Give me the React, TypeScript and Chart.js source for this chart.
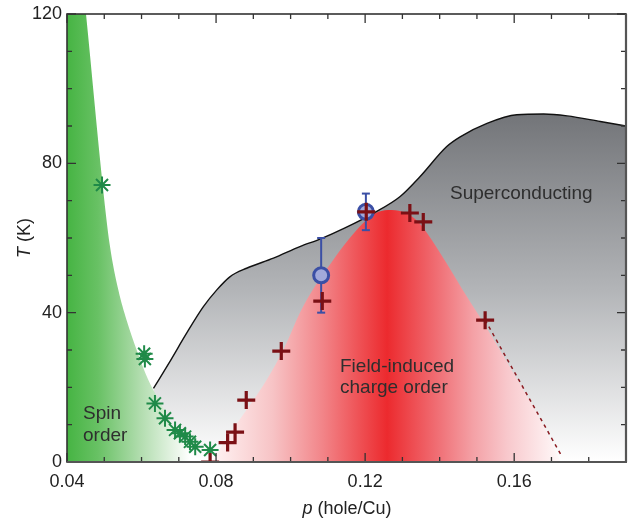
import React, { useEffect, useRef } from "react";
import { Chart, registerables } from "chart.js";
Chart.register(...registerables);

// ---- tick labels ----
const xTickLabels = ["0.04", "0.08", "0.12", "0.16"];
const yTickLabels = ["0", "40", "80", "120"];

// ---- spin order (green asterisks) ----
const spinP = [0.0494, 0.0607, 0.0609, 0.0636, 0.0663, 0.069, 0.0703, 0.0717, 0.073, 0.0744, 0.0784];
const spinT = [74.2, 29.0, 27.6, 15.7, 11.7, 8.6, 7.7, 6.8, 5.4, 4.1, 3.2];

// ---- field-induced charge order (dark red crosses) ----
const chargeP = [0.0784, 0.0831, 0.0851, 0.0881, 0.0975, 0.1085, 0.1203, 0.132, 0.1356, 0.1522];
const chargeT = [0, 5.2, 8.0, 16.6, 29.7, 43.1, 67, 66.7, 64.3, 38.0];

// ---- blue circles with error bars ----
const blueP = [0.1082, 0.1202];
const blueT = [50, 67];
const blueErr = [10, 4.9];

// ---- superconducting dome boundary ----
const scP = [0.0632, 0.0676, 0.0721, 0.0766, 0.0802, 0.0837, 0.0882, 0.0954, 0.1025, 0.1079, 0.1146, 0.1222, 0.1294, 0.1347, 0.1419, 0.1455, 0.1527, 0.1607, 0.1679, 0.1742, 0.1831, 0.19];
const scT = [19.7, 26.9, 34.5, 41.6, 46.1, 49.6, 51.9, 54.6, 57.7, 59.7, 62.7, 66.6, 71.1, 76.4, 84.5, 87.1, 90.7, 93.0, 93.2, 92.7, 91.2, 90.0];

// ---- spin order region edge ----
const spinEdgeP = [0.04, 0.0451, 0.0497, 0.0515, 0.0538, 0.056, 0.0587, 0.0618, 0.065, 0.0685, 0.072, 0.076];
const spinEdgeT = [170, 120, 73, 58, 46, 38, 30, 22, 16, 9.5, 4, 0];

// ---- charge order dome edge ----
const domeP = [0.079, 0.0829, 0.0882, 0.0936, 0.0985, 0.1025, 0.1065, 0.111, 0.1155, 0.1195, 0.1225, 0.1262, 0.13, 0.1335, 0.1365, 0.1419, 0.1473, 0.1518, 0.1598, 0.1661, 0.1725];
const domeT = [0, 6.5, 14, 22, 31, 40, 47, 53.5, 59.5, 64, 66.5, 67.5, 67, 65, 61.5, 53.2, 44.3, 37.2, 23.8, 13, 0];

// ---- dashed extrapolation ----
const dashP = [0.1522, 0.1728];
const dashT = [38, 1.5];

const zip = (xs: number[], ys: number[]) => xs.map((x, i) => ({ x, y: ys[i] }));

const FONT = "'Liberation Sans', Arial, Helvetica, sans-serif";

function greenFill(ctx: any) {
  const chart = ctx.chart;
  if (!chart.chartArea) return "rgba(0,0,0,0)";
  const xs = chart.scales.x;
  const g = chart.ctx.createLinearGradient(xs.getPixelForValue(0.04), 0, xs.getPixelForValue(0.073), 0);
  g.addColorStop(0, "#46b443");
  g.addColorStop(0.25, "#68c164");
  g.addColorStop(0.6, "#b2ddaf");
  g.addColorStop(1, "#ffffff");
  return g;
}

function redFill(ctx: any) {
  const chart = ctx.chart;
  if (!chart.chartArea) return "rgba(0,0,0,0)";
  const xs = chart.scales.x;
  const a = xs.getPixelForValue(0.079);
  const b = xs.getPixelForValue(0.1725);
  const g = chart.ctx.createLinearGradient(a, 0, b, 0);
  const stop = (v: number, c: string) => g.addColorStop((xs.getPixelForValue(v) - a) / (b - a), c);
  stop(0.079, "#fff4f4");
  stop(0.0953, "#f7c3c5");
  stop(0.1087, "#f28488");
  stop(0.1259, "#ec2a2e");
  stop(0.1401, "#f07278");
  stop(0.149, "#f4a1a6");
  stop(0.1581, "#f8c8cc");
  stop(0.1725, "#fffafa");
  return g;
}

function grayFill(ctx: any) {
  const chart = ctx.chart;
  if (!chart.chartArea) return "rgba(0,0,0,0)";
  const ys = chart.scales.y;
  const g = chart.ctx.createLinearGradient(0, ys.getPixelForValue(93), 0, ys.getPixelForValue(0));
  g.addColorStop(0, "#737579");
  g.addColorStop(0.5, "#b2b4b7");
  g.addColorStop(1, "#ffffff");
  return g;
}

const framePlugin = {
  id: "frameTicksText",
  afterDatasetsDraw(chart: any) {
    const { ctx, chartArea: ca, scales } = chart;
    const xs = scales.x;
    const ys = scales.y;
    ctx.save();
    // annotations
    ctx.fillStyle = "#2e2e2e";
    ctx.font = `19px ${FONT}`;
    ctx.textAlign = "left";
    ctx.textBaseline = "alphabetic";
    ctx.fillText("Superconducting", 450, 199);
    ctx.fillText("Field-induced", 340, 372);
    ctx.fillText("charge order", 340, 393);
    ctx.fillText("Spin", 83, 419);
    ctx.fillText("order", 83, 441);

    // ticks (inward)
    ctx.strokeStyle = "#333";
    ctx.lineWidth = 1.3;
    ctx.beginPath();
    xs.ticks.forEach((t: any) => {
      const px = xs.getPixelForValue(t.value);
      const major = Math.abs(Math.round(t.value * 100) % 4) === 0;
      const len = major ? 9 : 5;
      ctx.moveTo(px, ca.bottom);
      ctx.lineTo(px, ca.bottom - len);
      ctx.moveTo(px, ca.top);
      ctx.lineTo(px, ca.top + len);
    });
    ys.ticks.forEach((t: any) => {
      const py = ys.getPixelForValue(t.value);
      const major = Math.round(t.value) % 40 === 0;
      const len = major ? 9 : 5;
      ctx.moveTo(ca.left, py);
      ctx.lineTo(ca.left + len, py);
      ctx.moveTo(ca.right, py);
      ctx.lineTo(ca.right - len, py);
    });
    ctx.stroke();

    // frame
    ctx.lineWidth = 1.6;
    ctx.strokeStyle = "#333";
    ctx.strokeRect(ca.left, ca.top, ca.right - ca.left, ca.bottom - ca.top);
    ctx.strokeStyle = "#555";
    ctx.lineWidth = 2.2;
    ctx.beginPath();
    ctx.moveTo(ca.left, ca.bottom);
    ctx.lineTo(ca.right + 1, ca.bottom);
    ctx.moveTo(ca.right, ca.top);
    ctx.lineTo(ca.right, ca.bottom);
    ctx.stroke();
    ctx.restore();
  },
  afterDraw(chart: any) {
    const { ctx } = chart;
    ctx.save();
    ctx.fillStyle = "#222";
    ctx.textBaseline = "middle";
    // x title
    const reg = `18px ${FONT}`;
    const ita = `italic 18px ${FONT}`;
    ctx.font = ita;
    const wp = ctx.measureText("p").width;
    ctx.font = reg;
    const wr = ctx.measureText(" (hole/Cu)").width;
    const cx = 347;
    let x0 = cx - (wp + wr) / 2;
    ctx.textAlign = "left";
    ctx.font = ita;
    ctx.fillText("p", x0, 509);
    ctx.font = reg;
    ctx.fillText(" (hole/Cu)", x0 + wp, 509);
    // y title
    ctx.translate(25, 238);
    ctx.rotate(-Math.PI / 2);
    ctx.font = ita;
    const wt = ctx.measureText("T").width;
    ctx.font = reg;
    const wk = ctx.measureText(" (K)").width;
    x0 = -(wt + wk) / 2;
    ctx.font = ita;
    ctx.fillText("T", x0, 0);
    ctx.font = reg;
    ctx.fillText(" (K)", x0 + wt, 0);
    ctx.restore();
  },
};

export default function App() {
  const ref = useRef<HTMLCanvasElement>(null);
  useEffect(() => {
    document.body.style.margin = "0";
    const canvas = ref.current!;
    const blue = "#3b4fa5";
    const datasets: any[] = [
      {
        label: "charge order",
        data: zip(chargeP, chargeT),
        showLine: false,
        pointStyle: "cross",
        pointRadius: 9,
        pointBorderWidth: 3.2,
        borderColor: "#7b1015",
        backgroundColor: "#7b1015",
        order: 0,
      },
      {
        label: "blue",
        data: zip(blueP, blueT),
        showLine: false,
        pointStyle: "circle",
        pointRadius: 7.5,
        pointBorderWidth: 3,
        borderColor: blue,
        backgroundColor: "#a1a9da",
        order: 1,
      },
      ...blueP.map((p, i) => ({
        label: "err" + i,
        data: [
          { x: p, y: blueT[i] - blueErr[i] },
          { x: p, y: blueT[i] + blueErr[i] },
        ],
        showLine: true,
        borderColor: blue,
        borderWidth: 2,
        pointStyle: "line",
        pointRadius: 4,
        pointBorderWidth: 2,
        pointBorderColor: blue,
        fill: false,
        order: 2,
      })),
      {
        label: "dash",
        data: zip(dashP, dashT),
        showLine: true,
        borderColor: "#8b1a20",
        borderWidth: 1.5,
        borderDash: [3.5, 4],
        pointRadius: 0,
        fill: false,
        order: 3,
      },
      {
        label: "spin",
        data: zip(spinP, spinT),
        showLine: false,
        pointStyle: "star",
        pointRadius: 8.5,
        pointBorderWidth: 2,
        borderColor: "#1f8a48",
        backgroundColor: "#1f8a48",
        order: 4,
      },
      {
        label: "sc line",
        data: zip(scP, scT),
        showLine: true,
        borderColor: "#111",
        borderWidth: 1.4,
        pointRadius: 0,
        cubicInterpolationMode: "monotone",
        fill: false,
        order: 5,
      },
      {
        label: "spin region",
        data: zip(spinEdgeP, spinEdgeT),
        showLine: true,
        borderWidth: 0,
        borderColor: "rgba(0,0,0,0)",
        pointRadius: 0,
        cubicInterpolationMode: "monotone",
        fill: "origin",
        backgroundColor: greenFill,
        order: 6,
      },
      {
        label: "charge region",
        data: zip(domeP, domeT),
        showLine: true,
        borderWidth: 0,
        borderColor: "rgba(0,0,0,0)",
        pointRadius: 0,
        cubicInterpolationMode: "monotone",
        fill: "origin",
        backgroundColor: redFill,
        order: 7,
      },
      {
        label: "sc region",
        data: zip(scP, scT),
        showLine: true,
        borderWidth: 0,
        borderColor: "rgba(0,0,0,0)",
        pointRadius: 0,
        cubicInterpolationMode: "monotone",
        fill: "origin",
        backgroundColor: grayFill,
        order: 8,
      },
    ];

    const chart = new Chart(canvas, {
      type: "line",
      data: { datasets },
      options: {
        animation: false,
        responsive: false,
        devicePixelRatio: 1,
        events: [],
        layout: { autoPadding: false, padding: { top: 14, right: 6, left: 0, bottom: 0 } },
        plugins: { legend: { display: false }, tooltip: { enabled: false } },
        scales: {
          x: {
            type: "linear",
            min: 0.04,
            max: 0.19,
            grid: { display: false, drawTicks: false },
            border: { display: false },
            afterFit: (s: any) => {
              s.height = 61;
              s.paddingLeft = 0;
              s.paddingRight = 0;
            },
            ticks: {
              stepSize: 0.01,
              autoSkip: false,
              maxRotation: 0,
              padding: 9,
              color: "#222",
              font: { family: FONT, size: 18 },
              callback: (v: any) => {
                const s = Number(v).toFixed(2);
                return xTickLabels.includes(s) ? s : "";
              },
            },
          },
          y: {
            type: "linear",
            min: 0,
            max: 120,
            grid: { display: false, drawTicks: false },
            border: { display: false },
            afterFit: (s: any) => {
              s.width = 67;
              s.paddingTop = 0;
              s.paddingBottom = 0;
            },
            ticks: {
              stepSize: 10,
              autoSkip: false,
              padding: 5,
              color: "#222",
              font: { family: FONT, size: 18 },
              callback: (v: any) => {
                const s = String(Math.round(Number(v)));
                return yTickLabels.includes(s) ? s : "";
              },
            },
          },
        },
      },
      plugins: [framePlugin],
    } as any);
    return () => chart.destroy();
  }, []);
  return (
    <div style={{ width: 632, height: 523, background: "#fff" }}>
      <canvas ref={ref} width={632} height={523} style={{ display: "block", width: 632, height: 523 }} />
    </div>
  );
}
